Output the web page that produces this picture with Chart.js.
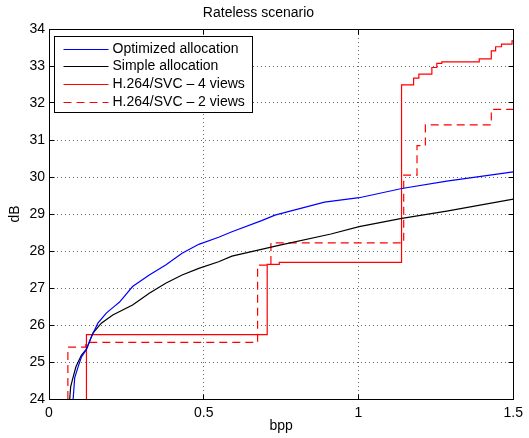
<!DOCTYPE html>
<html>
<head>
<meta charset="utf-8">
<script src="https://cdn.jsdelivr.net/npm/chart.js@4.4.1/dist/chart.umd.min.js"></script>
<style>
  html, body { margin: 0; padding: 0; background: #fff; }
</style>
</head>
<body>
<canvas id="myChart" width="529" height="438"></canvas>
<script>
// tick labels
const xTicks = [0, 0.5, 1, 1.5];
const yTicks = [24, 25, 26, 27, 28, 29, 30, 31, 32, 33, 34];

// Optimized allocation (blue)
const optX = [0.078, 0.083, 0.094, 0.105, 0.121, 0.137, 0.158, 0.185, 0.212, 0.228, 0.270, 0.324, 0.377, 0.430, 0.484, 0.548, 0.591, 0.687, 0.730, 0.890, 1.002, 1.140, 1.285, 1.5];
const optY = [24.0, 24.57, 24.87, 25.14, 25.34, 25.68, 26.05, 26.32, 26.51, 26.62, 27.04, 27.35, 27.62, 27.94, 28.18, 28.37, 28.52, 28.82, 28.97, 29.32, 29.44, 29.69, 29.89, 30.14];

// Simple allocation (black)
const simX = [0.067, 0.070, 0.076, 0.087, 0.105, 0.121, 0.142, 0.169, 0.206, 0.270, 0.324, 0.377, 0.430, 0.484, 0.548, 0.591, 0.746, 0.911, 1.002, 1.140, 1.285, 1.5];
const simY = [24.0, 24.33, 24.53, 24.87, 25.19, 25.35, 25.78, 26.05, 26.27, 26.54, 26.86, 27.13, 27.35, 27.53, 27.71, 27.86, 28.16, 28.46, 28.66, 28.88, 29.08, 29.40];

// H.264/SVC - 4 views (red, stepped)
const svc4X = [0.121, 0.121, 0.705, 0.744, 1.139, 1.178, 1.195, 1.237, 1.253, 1.269, 1.390, 1.429, 1.443, 1.462, 1.496, 1.5];
const svc4Y = [24.0, 25.74, 27.64, 27.69, 32.49, 32.67, 32.78, 32.96, 33.07, 33.11, 33.19, 33.41, 33.52, 33.59, 33.68, 33.68];

// H.264/SVC - 2 views (red dashed, stepped)
const svc2X = [0.061, 0.061, 0.119, 0.674, 0.717, 1.146, 1.189, 1.216, 1.429, 1.5];
const svc2Y = [24.0, 25.40, 25.53, 27.62, 28.22, 30.05, 30.85, 31.41, 31.83, 31.83];

function pts(xs, ys) {
  return xs.map((v, i) => ({ x: v, y: ys[i] }));
}

Chart.defaults.font.family = "'Liberation Sans', Arial, Helvetica, sans-serif";
Chart.defaults.font.size = 14;
Chart.defaults.color = '#000';

// dotted grid, box, inward ticks and a matlab-like legend
const frame = {
  id: 'frame',
  beforeDatasetsDraw(chart) {
    const ctx = chart.ctx;
    const a = chart.chartArea;
    const sx = chart.scales.x, sy = chart.scales.y;
    ctx.save();
    ctx.strokeStyle = 'rgba(0,0,0,0.6)';
    ctx.lineWidth = 1;
    ctx.setLineDash([1, 3]);
    ctx.beginPath();
    xTicks.slice(1, -1).forEach(v => {
      const p = Math.floor(sx.getPixelForValue(v)) + 0.5;
      ctx.moveTo(p, a.bottom); ctx.lineTo(p, a.top);
    });
    yTicks.slice(1, -1).forEach(v => {
      const p = Math.floor(sy.getPixelForValue(v)) + 0.5;
      ctx.moveTo(a.left, p); ctx.lineTo(a.right, p);
    });
    ctx.stroke();
    ctx.restore();
  },
  afterDraw(chart) {
    const ctx = chart.ctx;
    const a = chart.chartArea;
    const sx = chart.scales.x, sy = chart.scales.y;
    const L = Math.floor(a.left) + 0.5, R = Math.floor(a.right) + 0.5;
    const T = Math.floor(a.top) + 0.5, B = Math.floor(a.bottom) + 0.5;
    ctx.save();
    ctx.setLineDash([]);
    ctx.strokeStyle = '#000';
    ctx.lineWidth = 1;
    ctx.strokeRect(L, T, R - L, B - T);
    ctx.beginPath();
    xTicks.forEach(v => {
      const p = Math.floor(sx.getPixelForValue(v)) + 0.5;
      ctx.moveTo(p, B); ctx.lineTo(p, B - 5);
      ctx.moveTo(p, T); ctx.lineTo(p, T + 5);
    });
    yTicks.forEach(v => {
      const p = Math.floor(sy.getPixelForValue(v)) + 0.5;
      ctx.moveTo(L, p); ctx.lineTo(L + 5, p);
      ctx.moveTo(R, p); ctx.lineTo(R - 5, p);
    });
    ctx.stroke();

    // legend
    const bx = L + 5, by = T + 7, bw = 198, bh = 76;
    ctx.fillStyle = '#fff';
    ctx.fillRect(bx, by, bw, bh);
    ctx.strokeRect(bx, by, bw, bh);
    ctx.font = "14px 'Liberation Sans', Arial, sans-serif";
    ctx.textBaseline = 'middle';
    ctx.textAlign = 'left';
    chart.data.datasets.forEach((ds, i) => {
      const yy = Math.round(by + 12 + i * 17.8) + 0.5;
      ctx.beginPath();
      ctx.strokeStyle = ds.borderColor;
      ctx.setLineDash(ds.borderDash || []);
      ctx.moveTo(bx + 9, yy);
      ctx.lineTo(bx + 54, yy);
      ctx.stroke();
      ctx.fillStyle = '#000';
      ctx.fillText(ds.label, bx + 58, yy);
    });
    ctx.restore();
  }
};

const ctx = document.getElementById('myChart');
const myChart = new Chart(ctx, {
  type: 'line',
  data: {
    datasets: [
      { label: 'Optimized allocation', data: pts(optX, optY), borderColor: '#0000ff', borderWidth: 1.2 },
      { label: 'Simple allocation', data: pts(simX, simY), borderColor: '#000000', borderWidth: 1.2 },
      { label: 'H.264/SVC \u2013 4 views', data: pts(svc4X, svc4Y), borderColor: '#ff0000', borderWidth: 1.2, stepped: 'before' },
      { label: 'H.264/SVC \u2013 2 views', data: pts(svc2X, svc2Y), borderColor: '#ff0000', borderWidth: 1.2, stepped: 'before', borderDash: [8, 5] }
    ]
  },
  options: {
    responsive: false,
    animation: false,
    layout: { padding: { left: 0, right: 12, top: 0, bottom: 0 } },
    elements: { point: { radius: 0 }, line: { tension: 0, fill: false } },
    plugins: {
      legend: { display: false },
      tooltip: { enabled: false },
      title: {
        display: true,
        text: 'Rateless scenario',
        font: { size: 14, weight: 'normal' },
        padding: { top: 4.5, bottom: 7.7 }
      }
    },
    scales: {
      x: {
        type: 'linear',
        min: 0, max: 1.5,
        afterBuildTicks: s => { s.ticks = xTicks.map(v => ({ value: v })); },
        afterFit: s => { s.height = 39; },
        ticks: { padding: 6, maxRotation: 0, font: { size: 14 }, callback: v => String(v) },
        grid: { display: false, drawTicks: false },
        border: { display: false },
        title: { display: true, text: 'bpp', font: { size: 14 }, padding: { top: 0, bottom: 3 } }
      },
      y: {
        min: 24, max: 34,
        afterBuildTicks: s => { s.ticks = yTicks.map(v => ({ value: v })); },
        afterFit: s => { s.width = 49; },
        ticks: { padding: 4, font: { size: 14 }, callback: v => String(v) },
        grid: { display: false, drawTicks: false },
        border: { display: false },
        title: { display: true, text: 'dB', font: { size: 14 }, padding: { top: 6.6, bottom: 0 } }
      }
    }
  },
  plugins: [frame]
});
</script>
</body>
</html>
